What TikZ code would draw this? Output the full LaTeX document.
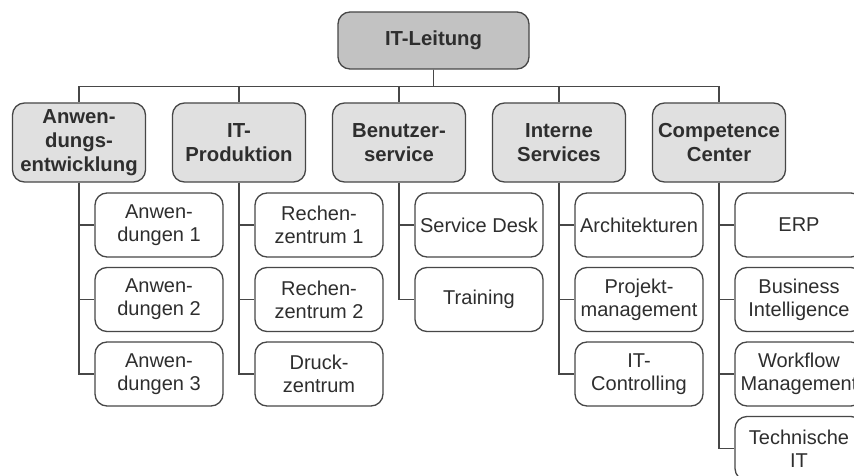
\documentclass[tikz,border=0pt]{standalone}
\usepackage{fontspec}
\setmainfont{Liberation Sans}
\definecolor{leitgray}{gray}{0.76}
\definecolor{bereichgray}{gray}{0.88}
\definecolor{linegray}{gray}{0.28}
\definecolor{textgray}{gray}{0.18}

\begin{document}
\begin{tikzpicture}[x=1pt,y=-1pt,
  leitung/.style={draw=linegray, line width=1.3pt, rounded corners=12pt, fill=leitgray,
    minimum width=191pt, minimum height=57pt, align=center, text=textgray,
    font=\fontsize{20.3}{24}\selectfont\bfseries},
  bereich/.style={draw=linegray, line width=1.3pt, rounded corners=12pt, fill=bereichgray,
    minimum width=133pt, minimum height=79pt, align=center, text=textgray, inner sep=1pt,
    font=\fontsize{20.3}{24}\selectfont\bfseries},
  stelle/.style={draw=linegray, line width=1.3pt, rounded corners=12pt, fill=white,
    minimum width=128pt, minimum height=64pt, align=center, text=textgray, inner sep=1pt,
    font=\fontsize{20}{23}\selectfont},
  linie/.style={draw=linegray, line width=1.3pt}]
\clip (0,0) rectangle (854,476);
\fill[white] (0,0) rectangle (854,476);

\node[leitung] (itl) at (433.5,40.5) {IT-Leitung};

\node[bereich] (anw) at (79,142.5) {Anwen-\\dungs-\\entwicklung};
\node[bereich] (prod) at (239,142.5) {IT-\\Produktion};
\node[bereich] (bs) at (399,142.5) {Benutzer-\\service};
\node[bereich] (is) at (559,142.5) {Interne\\Services};
\node[bereich] (cc) at (719,142.5) {Competence\\Center};

% Anwendungsentwicklung
\node[stelle] (anw1) at (159,225) {Anwen-\\dungen 1};
\node[stelle] (anw2) at (159,299.5) {Anwen-\\dungen 2};
\node[stelle] (anw3) at (159,374) {Anwen-\\dungen 3};
% IT-Produktion
\node[stelle] (rz1) at (319,225) {Rechen-\\zentrum 1};
\node[stelle] (rz2) at (319,299.5) {Rechen-\\zentrum 2};
\node[stelle] (dz) at (319,374) {Druck-\\zentrum};
% Benutzerservice
\node[stelle] (sd) at (479,225) {Service Desk};
\node[stelle] (tr) at (479,299.5) {Training};
% Interne Services
\node[stelle] (arch) at (639,225) {Architekturen};
\node[stelle] (pm) at (639,299.5) {Projekt-\\management};
\node[stelle] (ctrl) at (639,374) {IT-\\Controlling};
% Competence Center
\node[stelle] (erp) at (799,225) {ERP};
\node[stelle] (bi) at (799,299.5) {Business\\Intelligence};
\node[stelle] (wf) at (799,374) {Workflow\\Management};
\node[stelle] (tit) at (799,448.5) {Technische\\IT};

\draw[linie] (itl.south) -- ++(0,17) -| (anw.north);
\draw[linie] (itl.south) -- ++(0,17) -| (prod.north);
\draw[linie] (itl.south) -- ++(0,17) -| (bs.north);
\draw[linie] (itl.south) -- ++(0,17) -| (is.north);
\draw[linie] (itl.south) -- ++(0,17) -| (cc.north);

\foreach \p/\c in {anw/anw1,anw/anw2,anw/anw3,prod/rz1,prod/rz2,prod/dz,
    bs/sd,bs/tr,is/arch,is/pm,is/ctrl,cc/erp,cc/bi,cc/wf,cc/tit}
  \draw[linie] (\p.south) |- (\c.west);
\end{tikzpicture}
\end{document}
